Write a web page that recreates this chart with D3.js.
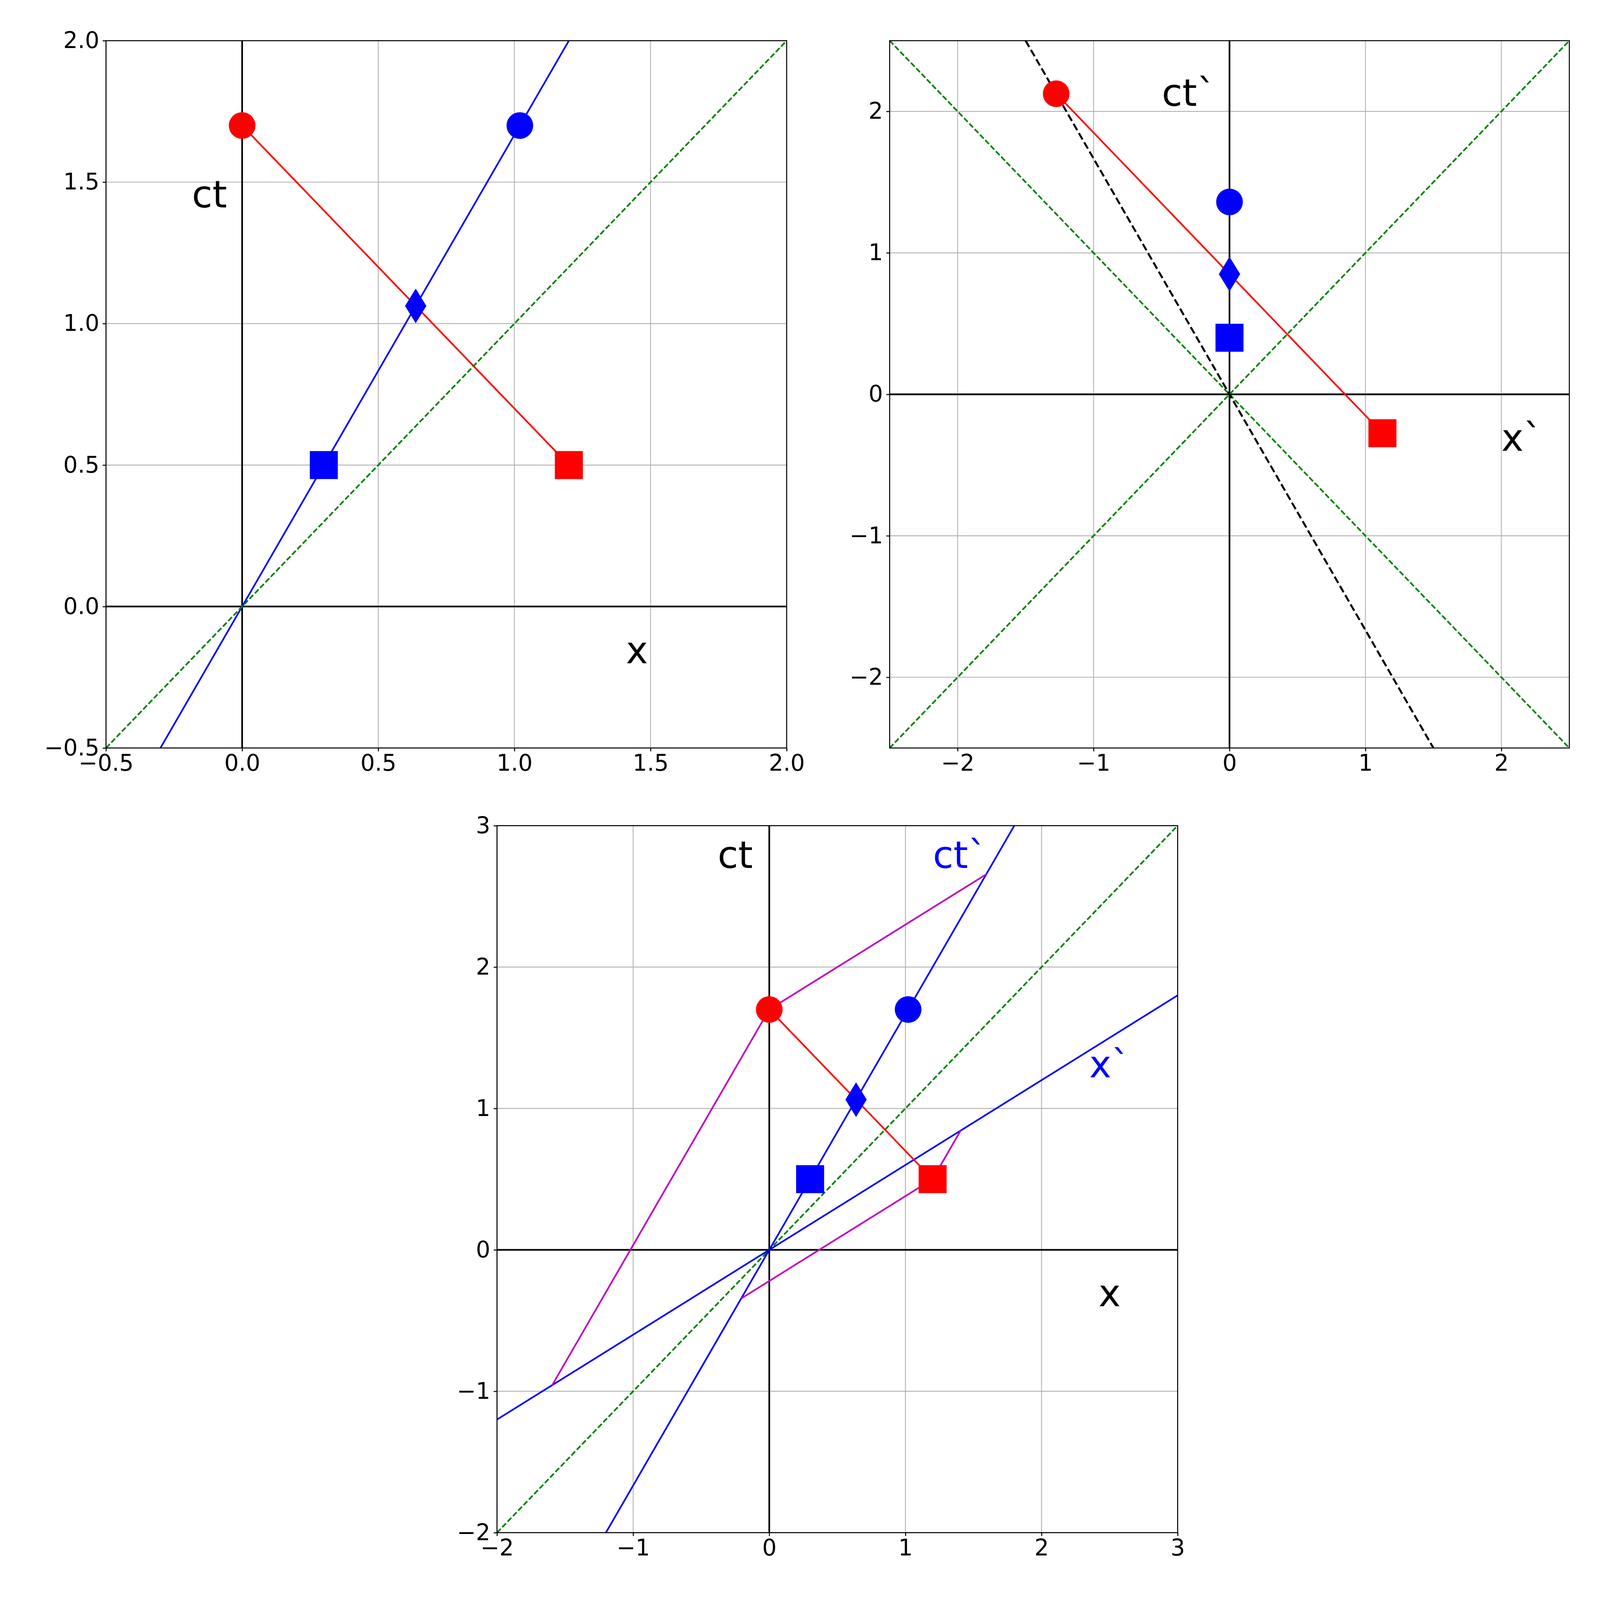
<!DOCTYPE html><html><head><meta charset="utf-8"><script src="https://cdn.jsdelivr.net/npm/d3@7"></script>
<style>html,body{margin:0;padding:0;background:#fff;overflow:hidden}svg{display:block;width:100vw;height:100vh}</style></head><body><svg id="c" viewBox="0 0 4800 4800" preserveAspectRatio="xMidYMid meet"></svg>
<script>
// ---- data ----
const v = 0.6;
const p1Ticks = [-0.5,0,0.5,1,1.5,2];
const p2Ticks = [-2,-1,0,1,2];
const p3Ticks = [-2,-1,0,1,2,3];
const redCircle = [0,1.7], redSquare = [1.2,0.5];
const blueCircle = [1.02,1.7], blueSquare = [0.3,0.5], blueDiamond = [0.6375,1.0625];
const p1BlueLine = [[-0.3,-0.5],[1.2,2]];
const p2RedCircle = [-1.275,2.125], p2RedSquare = [1.125,-0.275];
const p2BlueCircle = [0,1.36], p2BlueSquare = [0,0.4], p2BlueDiamond = [0,0.85];
const p2BlackDash = [[-1.5,2.5],[1.5,-2.5]];
const p3CtPrime = [[-1.2,-2],[1.8,3]];
const p3XPrime = [[-2,-1.2],[3,1.8]];
const p3Magenta1 = [[-1.594,-0.956],[0,1.7],[1.594,2.656]];
const p3Magenta2 = [[-0.206,-0.344],[1.2,0.5],[1.406,0.844]];

const svg = d3.select("#c");
const FONT = "DejaVu Sans";
function panel(x0,x1,y0,y1,dom,ticks,fmt){
  const g = svg.append("g");
  const x = d3.scaleLinear().domain(dom).range([x0,x1]);
  const y = d3.scaleLinear().domain(dom).range([y1,y0]);
  ticks.forEach(t=>{
    g.append("line").attr("x1",x(t)).attr("x2",x(t)).attr("y1",y0).attr("y2",y1).attr("stroke","#b0b0b0").attr("stroke-width",2.5);
    g.append("line").attr("y1",y(t)).attr("y2",y(t)).attr("x1",x0).attr("x2",x1).attr("stroke","#b0b0b0").attr("stroke-width",2.5);
  });
  const clip = "cl"+Math.round(x0);
  svg.append("clipPath").attr("id",clip).append("rect").attr("x",x0).attr("y",y0).attr("width",x1-x0).attr("height",y1-y0);
  const inner = svg.append("g").attr("clip-path",`url(#${clip})`);
  inner.append("line").attr("x1",x(0)).attr("x2",x(0)).attr("y1",y0).attr("y2",y1).attr("stroke","#000").attr("stroke-width",5);
  inner.append("line").attr("y1",y(0)).attr("y2",y(0)).attr("x1",x0).attr("x2",x1).attr("stroke","#000").attr("stroke-width",5);
  const ax = svg.append("g").attr("transform",`translate(0,${y1})`).call(d3.axisBottom(x).tickValues(ticks).tickFormat(fmt).tickSize(10).tickPadding(10));
  const ay = svg.append("g").attr("transform",`translate(${x0},0)`).call(d3.axisLeft(y).tickValues(ticks).tickFormat(fmt).tickSize(10).tickPadding(10));
  [ax,ay].forEach(a=>{a.selectAll("text").attr("font-size",68).attr("font-family",FONT).attr("fill","#000");
    a.selectAll("line").attr("stroke-width",3); a.select(".domain").remove();});
  svg.append("rect").attr("x",x0).attr("y",y0).attr("width",x1-x0).attr("height",y1-y0).attr("fill","none").attr("stroke","#000").attr("stroke-width",3);
  return {x,y,g:inner};
}
const fmt1 = d=>d3.format(".1f")(d).replace("-","\u2212");
const fmt0 = d=>String(d).replace("-","\u2212");
function line(P,pts,col,w,dash){P.g.append("path").attr("d",d3.line().x(d=>P.x(d[0])).y(d=>P.y(d[1]))(pts)).attr("fill","none").attr("stroke",col).attr("stroke-width",w).attr("stroke-dasharray",dash||null);}
function circ(P,p,c){P.g.append("circle").attr("cx",P.x(p[0])).attr("cy",P.y(p[1])).attr("r",40).attr("fill",c);}
function sq(P,p,c){P.g.append("rect").attr("x",P.x(p[0])-42).attr("y",P.y(p[1])-42).attr("width",84).attr("height",84).attr("fill",c);}
function dia(P,p,c){const X=P.x(p[0]),Y=P.y(p[1]);P.g.append("path").attr("d",`M${X},${Y-52}L${X+32},${Y}L${X},${Y+52}L${X-32},${Y}Z`).attr("fill",c);}
function label(P,p,t,c){svg.append("text").attr("x",P.x(p[0])).attr("y",P.y(p[1])).attr("text-anchor","middle").attr("font-size",112).attr("font-family",FONT).attr("fill",c).text(t);}
const GD = "16,7";

// Panel 1
let P = panel(318,2360,122,2244,[-0.5,2],p1Ticks,fmt1);
line(P,[redCircle,redSquare],"red",5);
line(P,p1BlueLine,"blue",5);
line(P,[[-0.5,-0.5],[2,2]],"green",5,GD);
circ(P,redCircle,"red"); sq(P,redSquare,"red");
circ(P,blueCircle,"blue"); sq(P,blueSquare,"blue"); dia(P,blueDiamond,"blue");
label(P,[-0.12,1.41],"ct","#000"); label(P,[1.45,-0.2],"x","#000");

// Panel 2
P = panel(2669,4708,122,2244,[-2.5,2.5],p2Ticks,fmt0);
line(P,[[-2.5,-2.5],[2.5,2.5]],"green",5,GD);
line(P,[[-2.5,2.5],[2.5,-2.5]],"green",5,GD);
line(P,p2BlackDash,"#000",6,"22,10");
line(P,[p2RedCircle,p2RedSquare],"red",5);
circ(P,p2RedCircle,"red"); sq(P,p2RedSquare,"red");
circ(P,p2BlueCircle,"blue"); sq(P,p2BlueSquare,"blue"); dia(P,p2BlueDiamond,"blue");
label(P,[-0.3,2.04],"ct`","#000"); label(P,[2.15,-0.4],"x`","#000");

// Panel 3
P = panel(1491,3533,2477,4598,[-2,3],p3Ticks,fmt0);
line(P,[[-2,-2],[3,3]],"green",5,GD);
line(P,p3CtPrime,"blue",5);
line(P,p3XPrime,"blue",5);
line(P,p3Magenta1,"#c000c0",5);
line(P,p3Magenta2,"#c000c0",5);
line(P,[redCircle,redSquare],"red",5);
circ(P,redCircle,"red"); sq(P,redSquare,"red");
circ(P,blueCircle,"blue"); sq(P,blueSquare,"blue"); dia(P,blueDiamond,"blue");
label(P,[-0.25,2.7],"ct","#000"); label(P,[1.4,2.7],"ct`","blue");
label(P,[2.5,1.22],"x`","blue"); label(P,[2.5,-0.4],"x","#000");
</script></body></html>
